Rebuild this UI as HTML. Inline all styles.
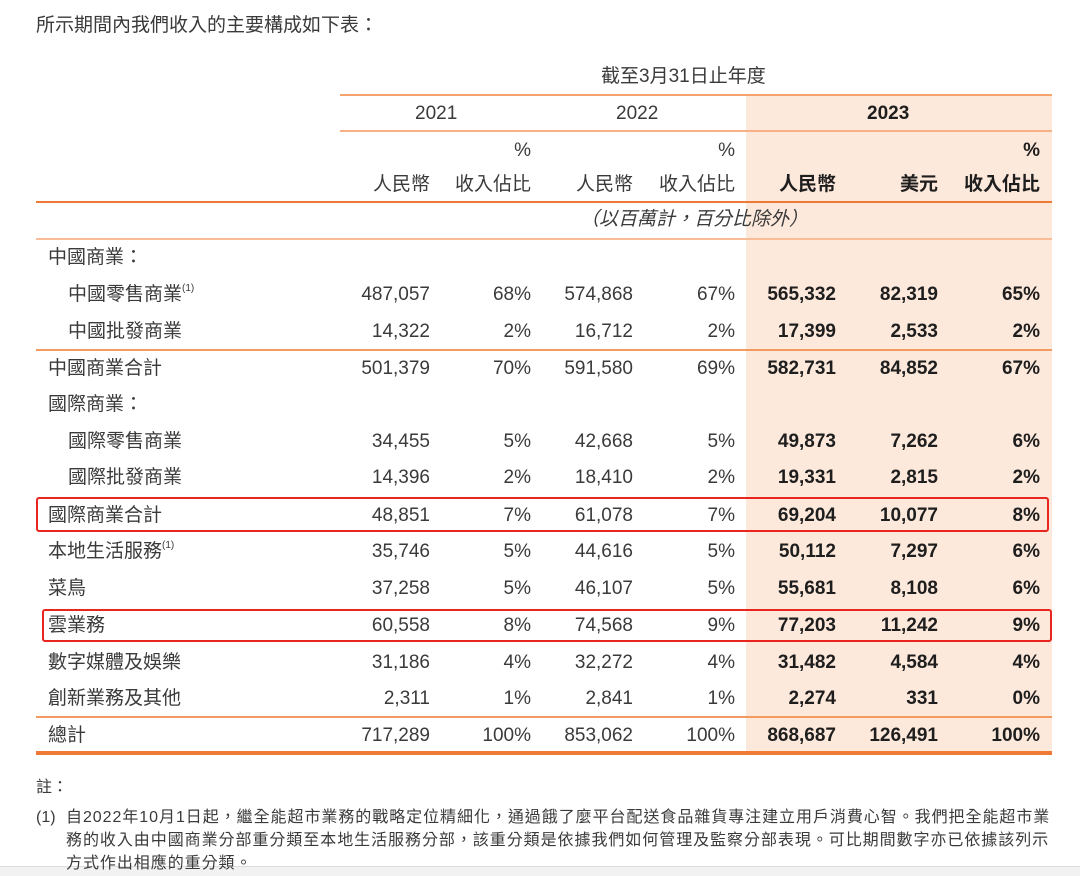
<!DOCTYPE html>
<html><head><meta charset="utf-8"><style>
html,body{margin:0;padding:0;background:#fff;width:1080px;height:876px;overflow:hidden;position:relative;
font-family:"Liberation Sans","Noto Sans CJK TC",sans-serif;color:#3a3a3a;}
.t{position:absolute;font-size:19px;line-height:22px;white-space:nowrap;}
.r{text-align:right;}
.b{font-weight:bold;color:#1e1e1e;}
.ln{position:absolute;height:0;}
sup{font-size:10px;vertical-align:top;line-height:10px;}
</style></head><body>
<div style="position:absolute;left:746px;top:95px;width:306px;height:657px;background:#fde9db"></div>
<div class="ln" style="left:340px;top:94px;width:712px;border-top:2px solid #f6a26c"></div>
<div class="ln" style="left:340px;top:130px;width:712px;border-top:2px solid #f6b186"></div>
<div class="ln" style="left:36px;top:201px;width:1016px;border-top:2px solid #f07a35"></div>
<div class="ln" style="left:36px;top:238px;width:1016px;border-top:2px solid #f8bd98"></div>
<div class="ln" style="left:36px;top:349px;width:1016px;border-top:2px solid #f39a60"></div>
<div class="ln" style="left:36px;top:716px;width:1016px;border-top:2px solid #f39a60"></div>
<div class="ln" style="left:36px;top:751px;width:1016px;border-top:4px solid #f07a35"></div>
<div style="position:absolute;left:36px;top:497px;width:1009px;height:31px;border:2px solid #e8261f;border-radius:3px"></div>
<div style="position:absolute;left:42px;top:609px;width:1006px;height:29px;border:2px solid #e8261f;border-radius:3px"></div>
<div style="position:absolute;left:0;top:866px;width:1080px;height:10px;background:#f2f2f2;border-top:1px solid #ddd"></div>

<div class="t" style="left:36px;top:15px">所示期間內我們收入的主要構成如下表：</div>
<div class="t" style="left:601px;top:66px">截至3月31日止年度</div>
<div class="t" style="left:415px;top:103px">2021</div>
<div class="t" style="left:616px;top:103px">2022</div>
<div class="t b" style="left:867px;top:103px">2023</div>
<div class="t r" style="left:480px;top:140px;width:51px">%</div>
<div class="t r" style="left:684px;top:140px;width:51px">%</div>
<div class="t r b" style="left:989px;top:140px;width:51px">%</div>
<div class="t r" style="left:330px;top:174px;width:100px">人民幣</div>
<div class="t r" style="left:431px;top:174px;width:100px">收入佔比</div>
<div class="t r" style="left:533px;top:174px;width:100px">人民幣</div>
<div class="t r" style="left:635px;top:174px;width:100px">收入佔比</div>
<div class="t r b" style="left:736px;top:174px;width:100px">人民幣</div>
<div class="t r b" style="left:838px;top:174px;width:100px">美元</div>
<div class="t r b" style="left:940px;top:174px;width:100px">收入佔比</div>
<div class="t" style="left:580px;top:209px;font-style:italic">（以百萬計，百分比除外）</div>

<div id="rows"></div>
<script>
var rows=[
["中國商業：",48,"","","","","","",""],
["中國零售商業<sup>(1)</sup>",68,"487,057","68%","574,868","67%","565,332","82,319","65%"],
["中國批發商業",68,"14,322","2%","16,712","2%","17,399","2,533","2%"],
["中國商業合計",48,"501,379","70%","591,580","69%","582,731","84,852","67%"],
["國際商業：",48,"","","","","","",""],
["國際零售商業",68,"34,455","5%","42,668","5%","49,873","7,262","6%"],
["國際批發商業",68,"14,396","2%","18,410","2%","19,331","2,815","2%"],
["國際商業合計",48,"48,851","7%","61,078","7%","69,204","10,077","8%"],
["本地生活服務<sup>(1)</sup>",48,"35,746","5%","44,616","5%","50,112","7,297","6%"],
["菜鳥",48,"37,258","5%","46,107","5%","55,681","8,108","6%"],
["雲業務",48,"60,558","8%","74,568","9%","77,203","11,242","9%"],
["數字媒體及娛樂",48,"31,186","4%","32,272","4%","31,482","4,584","4%"],
["創新業務及其他",48,"2,311","1%","2,841","1%","2,274","331","0%"],
["總計",48,"717,289","100%","853,062","100%","868,687","126,491","100%"]];
var ys=[256,293,330,367,403,440,476,514,550,587,624,661,697,734];
var rx=[430,531,633,735,836,938,1040];
var h="";
rows.forEach(function(r,i){var y=ys[i]-9;
h+='<div class="t" style="left:'+r[1]+'px;top:'+y+'px">'+r[0]+'</div>';
for(var j=0;j<7;j++){if(!r[j+2])continue;
h+='<div class="t r'+(j>=4?' b':'')+'" style="left:'+(rx[j]-120)+'px;top:'+y+'px;width:120px">'+r[j+2]+'</div>';}});
document.getElementById("rows").innerHTML=h;
</script>

<div class="t" style="left:36px;top:777px;font-size:16px">註：</div>
<div class="t" style="left:36px;top:806px;font-size:16px;line-height:23px">(1)</div>
<div class="t" style="left:66px;top:806px;font-size:16px;line-height:23px;white-space:nowrap;width:1000px;letter-spacing:0.95px">自2022年10月1日起，繼全能超市業務的戰略定位精細化，通過餓了麼平台配送食品雜貨專注建立用戶消費心智。我們把全能超市業<br>務的收入由中國商業分部重分類至本地生活服務分部，該重分類是依據我們如何管理及監察分部表現。可比期間數字亦已依據該列示<br>方式作出相應的重分類。</div>
</body></html>
